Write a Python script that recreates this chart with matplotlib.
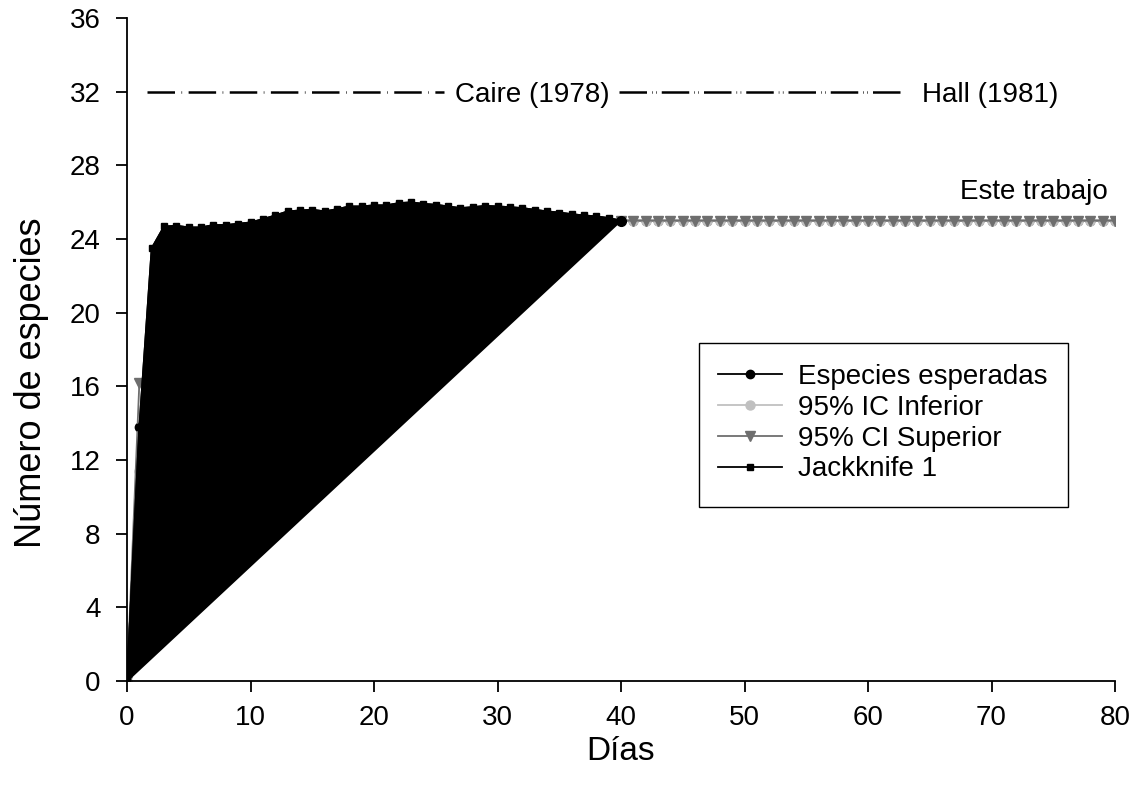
import matplotlib
matplotlib.use("Agg")
import matplotlib.pyplot as plt
from matplotlib.lines import Line2D
from matplotlib.patches import Rectangle

plt.rcParams['font.family'] = ['Liberation Sans', 'DejaVu Sans']

# Sampling days and species accumulation estimates
days_jack = list(range(0, 41))
jackknife1 = [0.0, 13.8, 23.5, 24.68, 24.72, 24.63, 24.63, 24.76, 24.76, 24.83,
              24.9, 25.08, 25.28, 25.5, 25.55, 25.59, 25.5, 25.62, 25.77, 25.77,
              25.83, 25.83, 25.95, 25.99, 25.91, 25.86, 25.77, 25.68, 25.73, 25.8,
              25.77, 25.73, 25.68, 25.59, 25.5, 25.44, 25.35, 25.28, 25.23, 25.14,
              25.0]

days_curve = [0, 1] + list(range(40, 81))
expected = [0.0, 13.8] + [25.0] * 41
ic_lower = [0.0, 11.4] + [25.0] * 41
ci_upper = [0.0, 16.2] + [25.0] * 41

# Published richness references
caire_value = 32
caire_span = (1.6, 25.7)
hall_value = 32
hall_span = (39.8, 63.0)

x_ticks = list(range(0, 81, 10))
y_ticks = list(range(0, 37, 4))

FS = 20

fig = plt.figure(figsize=(11.37, 7.94), dpi=100)
ax = fig.add_axes([0.1117, 0.1423, 0.869, 0.835])

ax.plot(days_curve, expected, color='black', lw=1.3, marker='o', ms=6,
        zorder=2, label='Especies esperadas')
ax.plot(days_curve, ic_lower, color='#c0c0c0', lw=1.3, marker='o', ms=6.5,
        zorder=2.1, label='95% IC Inferior')
ax.plot(days_curve, ci_upper, color='#6e6e6e', lw=1.3, marker='v', ms=7,
        zorder=2.2, label='95% CI Superior')

# Jackknife 1 drawn as a closed, filled outline with square markers
ax.fill(days_jack, jackknife1, color='black', lw=1.3, zorder=3)
ax.plot(days_jack, jackknife1, color='black', lw=1.3, marker='s', ms=5,
        zorder=3.1)
ax.plot([days_jack[-1]], [jackknife1[-1]], color='black', marker='o', ms=7,
        zorder=3.2)

# Reference lines with their labels
ax.plot(caire_span, [caire_value] * 2, color='black', lw=1.8,
        dashes=(11, 2.6, 0.25, 2.6), dash_capstyle='butt', zorder=2)
ax.plot(hall_span, [hall_value] * 2, color='black', lw=1.8,
        dashes=(11, 2.0, 0.25, 1.4, 0.25, 2.0), dash_capstyle='butt',
        zorder=2)
ax.text(32.8, caire_value, 'Caire (1978)', fontsize=FS, ha='center',
        va='center_baseline')
ax.text(64.4, hall_value, 'Hall (1981)', fontsize=FS, ha='left',
        va='center_baseline')
ax.text(79.4, 26.7, 'Este trabajo', fontsize=FS, ha='right',
        va='center_baseline')

ax.set_xlim(0, 80)
ax.set_ylim(0, 36)
ax.set_xticks(x_ticks)
ax.set_yticks(y_ticks)
ax.tick_params(axis='both', direction='out', length=8, width=1.3,
               labelsize=FS)
ax.tick_params(axis='x', pad=9)
ax.tick_params(axis='y', pad=11)
for side in ('top', 'right'):
    ax.spines[side].set_visible(False)
for side in ('left', 'bottom'):
    ax.spines[side].set_linewidth(1.3)
ax.set_xlabel('Días', fontsize=24, va='center')
ax.set_ylabel('Número de especies', fontsize=26, va='center')
ax.xaxis.set_label_coords(0.5, -0.106)
ax.yaxis.set_label_coords(-0.097, 0.45)

handles = [
    Line2D([], [], color='black', lw=1.3, marker='o', ms=6),
    Line2D([], [], color='#c0c0c0', lw=1.3, marker='o', ms=6.5),
    Line2D([], [], color='#6e6e6e', lw=1.3, marker='v', ms=7),
    Line2D([], [], color='black', lw=1.3, marker='s', ms=5),
]
labels = ['Especies esperadas', '95% IC Inferior', '95% CI Superior',
          'Jackknife 1']
leg = ax.legend(handles, labels, loc='upper left',
                bbox_to_anchor=(0.598, 0.478), fontsize=FS, frameon=False,
                handlelength=2.3, handletextpad=0.6, labelspacing=0.17,
                borderpad=0, borderaxespad=0)
ax.add_patch(Rectangle((0.579, 0.2624), 0.5, 0.2474,
                       transform=ax.transAxes, fill=False,
                       edgecolor='black', lw=1.0, zorder=5))

fig.canvas.draw()
# Fit the frame width to the legend entries
bb = leg.get_window_extent().transformed(ax.transAxes.inverted())
ax.patches[-1].set_width(bb.x1 + 0.02 - 0.579)

fig.savefig('out.png', dpi=100)
